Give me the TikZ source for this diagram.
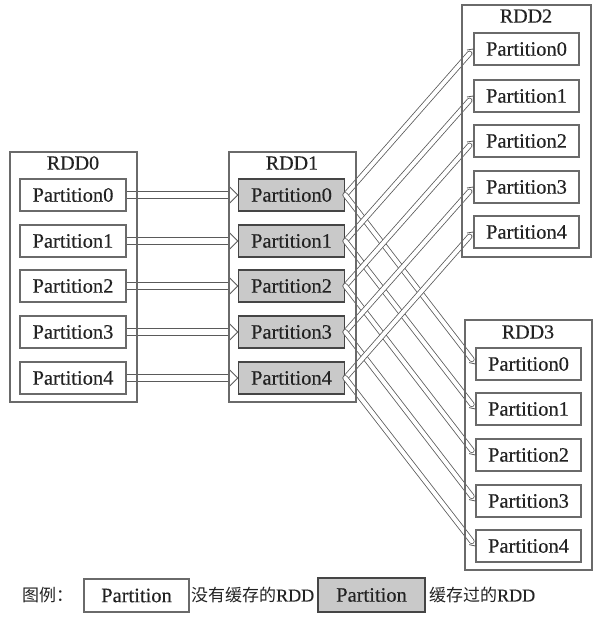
\documentclass[tikz,border=0pt]{standalone}
\usepackage{fontspec}
\setmainfont{Liberation Serif}
\newfontfamily\pfont[FakeBold=0.35]{Liberation Serif}
\newfontfamily\cjk{Noto Sans CJK SC}
\usetikzlibrary{calc}
\definecolor{linegray}{HTML}{5A5A5A}
\definecolor{boxgray}{HTML}{6A6A6A}
\definecolor{cachedraw}{HTML}{454545}
\definecolor{cachefill}{HTML}{C9C9C9}
\definecolor{textcol}{HTML}{222222}
\begin{document}
\begin{tikzpicture}[x=1pt,y=-1pt,
  part/.style={draw=boxgray, line width=1.1pt, fill=white, minimum width=106pt, minimum height=32pt, inner sep=0pt, text=textcol, font=\pfont\fontsize{20.5}{21}\selectfont},
  cached/.style={part, draw=cachedraw, line width=1.6pt, fill=cachefill},
  container/.style={draw=boxgray, line width=1.1pt, inner sep=0pt},
  title/.style={text=textcol, font=\pfont\fontsize{20}{21}\selectfont},
  dblconn/.style={draw=linegray, line width=0.8pt, double=white, double distance=6.5pt},
  thinconn/.style={draw=linegray, line width=0.8pt, double=white, double distance=4pt, line cap=round},
  chev/.style={draw=linegray, line width=0.8pt},
  legtext/.style={text=textcol, font=\fontsize{17}{18}\selectfont, inner sep=0pt}]
\useasboundingbox[fill=white] (0,0) rectangle (597,620);

% partitions
\foreach \i/\y in {0/195,1/241,2/286,3/332,4/378} {
  \node[part] (a\i) at (73,\y) {Partition\i};
  \node[cached] (b\i) at (291.5,\y) {Partition\i};
}
\foreach \i/\y in {0/49,1/96,2/141,3/187,4/232} {
  \node[part, minimum width=105pt] (c\i) at (526.5,\y) {Partition\i};
}
\foreach \i/\y in {0/364,1/409,2/455,3/501,4/546} {
  \node[part, minimum width=105pt] (d\i) at (528.5,\y) {Partition\i};
}

% connectors RDD0 -> RDD1
\foreach \i in {0,...,4} {
  \draw[dblconn, shorten <=0.6pt, shorten >=8pt] (a\i.east) -- (b\i.west);
  \draw[chev] ($(b\i.west)!11.3pt!45:(a\i.east)$) -- (b\i.west) -- ($(b\i.west)!11.3pt!-45:(a\i.east)$);
}
% connectors RDD1 -> RDD2 / RDD3
\foreach \i in {0,...,4} {
  \draw[thinconn, shorten >=6pt] (b\i.east) -- (c\i.west);
  \draw[chev] ($(c\i.west)!6.5pt!40:(b\i.east)$) -- (c\i.west) -- ($(c\i.west)!6.5pt!-40:(b\i.east)$);
  \draw[thinconn, shorten >=6pt] (b\i.east) -- (d\i.west);
  \draw[chev] ($(d\i.west)!6.5pt!40:(b\i.east)$) -- (d\i.west) -- ($(d\i.west)!6.5pt!-40:(b\i.east)$);
}

% containers
\node[container, minimum width=127pt, minimum height=250pt] (rdd0) at (73.5,277) {};
\node[container, minimum width=127pt, minimum height=250pt] (rdd1) at (292.5,277) {};
\node[container, minimum width=129pt, minimum height=252pt] (rdd2) at (526.5,131) {};
\node[container, minimum width=127pt, minimum height=250pt] (rdd3) at (528.5,445) {};
\node[title] (t0) at (73,163) {RDD0};
\node[title] (t1) at (292,163) {RDD1};
\node[title] (t2) at (526,16) {RDD2};
\node[title] (t3) at (528,332) {RDD3};

% legend
\node[legtext, anchor=west] (lg) at (22,595) {\cjk 图例：};
\node[part, minimum width=105pt, minimum height=33pt] (lw) at (136.5,595.5) {Partition};
\node[legtext, anchor=west] (lwt) at (191,595) {{\cjk 没有缓存的}{\pfont\fontsize{18}{19}\selectfont RDD}};
\node[cached, minimum width=107pt, minimum height=34pt] (lc) at (371.5,595) {Partition};
\node[legtext, anchor=west] (lct) at (429,595) {{\cjk 缓存过的}{\pfont\fontsize{18}{19}\selectfont RDD}};
\end{tikzpicture}
\end{document}
